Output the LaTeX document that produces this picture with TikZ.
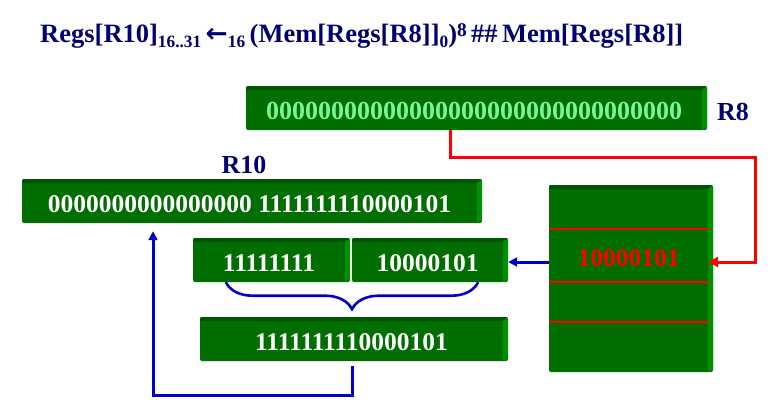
\documentclass[tikz,border=0pt]{standalone}
\usepackage{fontspec}
\setmainfont{Liberation Serif}
\newfontfamily\arrfont{DejaVu Sans}
\usetikzlibrary{arrows.meta,calc,decorations.pathreplacing}
\definecolor{navy}{RGB}{0,0,110}
\definecolor{gface}{RGB}{0,110,0}
\definecolor{gtop}{RGB}{0,85,0}
\definecolor{gside}{RGB}{0,145,0}
\definecolor{lgreen}{RGB}{120,245,150}
\definecolor{bluel}{RGB}{0,0,205}
\definecolor{redl}{RGB}{255,0,0}
\newcommand\dsub[1]{\raisebox{-5pt}{\fontsize{17}{18}\selectfont #1}}
\newcommand\dsup[1]{\raisebox{5pt}{\fontsize{19}{20}\selectfont #1}}
\tikzset{
  gbox/.style={fill=gface, rounded corners=2pt, inner sep=0pt, text=white,
    font=\fontsize{25.5}{30}\selectfont\bfseries, text height=22pt, text depth=0pt,
    execute at end node={\kern5pt},
    path picture={
      \fill[gtop, sharp corners] (path picture bounding box.north west) -- (path picture bounding box.north east)
        -- ([xshift=-5pt,yshift=-4pt]path picture bounding box.north east)
        -- ([yshift=-4pt]path picture bounding box.north west) -- cycle;
      \fill[gside, sharp corners] (path picture bounding box.north east)
        -- ([xshift=-5pt,yshift=-4pt]path picture bounding box.north east)
        -- ([xshift=-5pt]path picture bounding box.south east)
        -- ([yshift=3pt]path picture bounding box.south east) -- cycle;
    }},
  navylabel/.style={text=navy, font=\fontsize{26}{30}\selectfont\bfseries, inner sep=0pt},
  redc/.style={draw=redl, line width=3pt, -{Triangle[length=10pt,width=10pt]}},
  bluec/.style={draw=bluel, line width=3pt, -{Triangle[length=9pt,width=9pt]}},
  memline/.style={draw=redl, line width=1.6pt},
  memtext/.style={text=redl, font=\fontsize{25.5}{30}\selectfont\bfseries, inner sep=0pt},
}
\begin{document}
\begin{tikzpicture}[x=1pt,y=-1pt]
\useasboundingbox (0,0) rectangle (782,410);

% title
\node[navylabel, anchor=base west] (title) at (40,42)
  {\resizebox{643pt}{!}{Regs[R10]\dsub{16..31}\,{\arrfont\bfseries ←}\dsub{16}\,(Mem[Regs[R8]]\dsub{0})\dsup{8}\,\#\#\,Mem[Regs[R8]]}};

% R8 register
\node[gbox, minimum width=461pt, minimum height=44pt, text=lgreen,
      font=\fontsize{26}{30}\selectfont\bfseries] (r8) at (476.5,108)
  {00000000000000000000000000000000};
\node[navylabel, anchor=base west] (r8lab) at (717,120) {R8};

% R10 register
\node[navylabel, anchor=base] (r10lab) at (244,173) {R10};
\node[gbox, minimum width=460pt, minimum height=44pt] (r10) at (252,201)
  {0000000000000000 1111111110000101};

% byte boxes
\node[gbox, minimum width=157pt, minimum height=44pt] (b1) at (271.5,260) {11111111};
\node[gbox, minimum width=156pt, minimum height=44pt] (b2) at (430,260) {10000101};

% result halfword
\node[gbox, minimum width=308pt, minimum height=44pt] (bot) at (354,339) {1111111110000101};

% memory
\node[gbox, minimum width=164pt, minimum height=187pt] (mem) at (631,278.5) {};
\draw[memline] ([yshift=-44pt]mem.north west) -- ++(160,0);
\draw[memline] ([yshift=-97pt]mem.north west) -- ++(160,0);
\draw[memline] ([yshift=-137pt]mem.north west) -- ++(160,0);
\node[memtext] (mv) at (628.5,258) {10000101};

% red connector R8 -> memory
\coordinate (rturn) at (755,157);
\draw[redc] ([xshift=-26.5pt]r8.south) |- (rturn) |- ([xshift=-5pt,yshift=16.5pt]mem.east);

% blue connector memory -> byte box
\draw[bluec] ([yshift=16.5pt]mem.west) -- ([yshift=16.5pt]mem.west -| b2.east);

% brace
\draw[draw=bluel, line width=2.6pt, decorate, decoration={brace, mirror, amplitude=27pt, aspect=0.5}]
  ([xshift=33pt]b1.south west) -- ([xshift=-30pt]b2.south east);

% blue connector result -> R10
\coordinate (bturn) at (153,395);
\draw[bluec, shorten >=8pt] ([xshift=-2pt,yshift=-5pt]bot.south) |- (bturn) -- (bturn |- r10.south);
\end{tikzpicture}
\end{document}
